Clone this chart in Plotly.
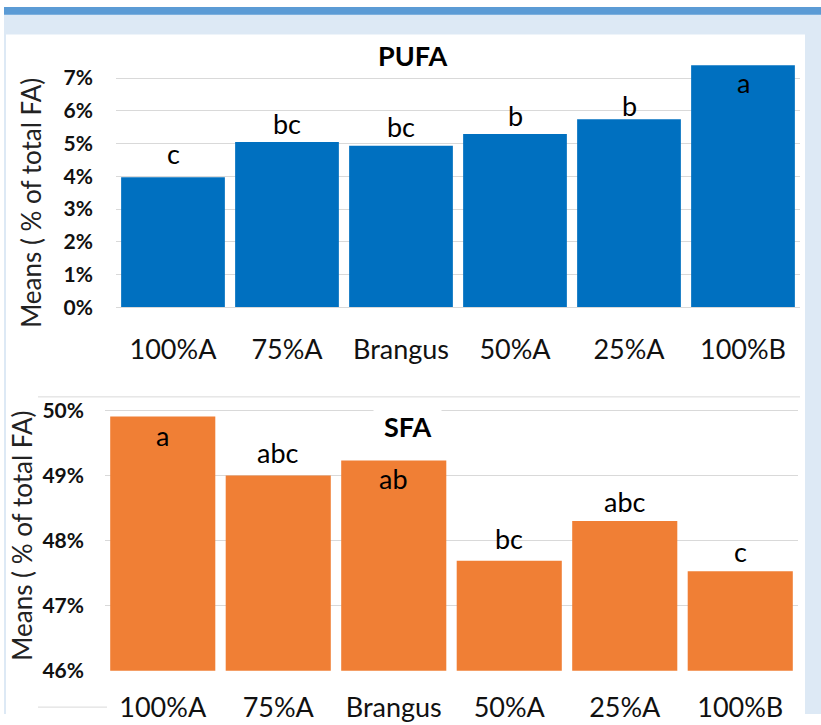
import plotly.graph_objects as go

W, H = 821, 725

categories = ["100%A", "75%A", "Brangus", "50%A", "25%A", "100%B"]
pufa_values = [3.97, 5.05, 4.93, 5.29, 5.74, 7.39]
pufa_letters = ["c", "bc", "bc", "b", "b", "a"]
sfa_values = [49.91, 49.00, 49.23, 47.69, 48.30, 47.53]
sfa_letters = ["a", "abc", "ab", "bc", "abc", "c"]
pufa_ticks = [0, 1, 2, 3, 4, 5, 6, 7]
pufa_ticklabels = ["0%", "1%", "2%", "3%", "4%", "5%", "6%", "7%"]
sfa_ticks = [46, 47, 48, 49, 50]
sfa_ticklabels = ["46%", "47%", "48%", "49%", "50%"]
y_title = "Means ( % of total FA)"

# style: per-label pixel offsets
pufa_shift = [5, 0, 1, 0, -5, -36]
sfa_shift = [-38, 5, -36, 4, 1, 1]

FONT = "Lato, 'Liberation Sans', sans-serif"

def px(x):
    return x / W

def py(y):
    return 1 - y / H

fig = go.Figure()
fig.add_trace(go.Bar(x=categories, y=pufa_values, marker=dict(color="#0070c0", line=dict(width=0)),
                     xaxis="x", yaxis="y", showlegend=False, hoverinfo="skip"))
fig.add_trace(go.Bar(x=categories, y=sfa_values, marker=dict(color="#f07f35", line=dict(width=0)),
                     xaxis="x2", yaxis="y2", showlegend=False, hoverinfo="skip"))

annotations = []
for c, v, t, s in zip(categories, pufa_values, pufa_letters, pufa_shift):
    annotations.append(dict(x=c, y=v, xref="x", yref="y", text=t, showarrow=False,
                            xanchor="center", yanchor="bottom", yshift=s,
                            font=dict(family=FONT, size=27, color="#000")))
for c, v, t, s in zip(categories, sfa_values, sfa_letters, sfa_shift):
    annotations.append(dict(x=c, y=v, xref="x2", yref="y2", text=t, showarrow=False,
                            xanchor="center", yanchor="bottom", yshift=s,
                            font=dict(family=FONT, size=27, color="#000")))
annotations += [
    dict(x=px(412), y=py(56), xref="paper", yref="paper", text="<b>PUFA</b>", showarrow=False,
         xanchor="center", yanchor="middle", font=dict(family=FONT, size=27, color="#000")),
    dict(x=px(407), y=py(433), xref="paper", yref="paper", text="<b>SFA</b>", showarrow=False,
         xanchor="center", yanchor="middle",
         bgcolor="#ffffff", borderpad=10, font=dict(family=FONT, size=27, color="#000")),
    dict(x=px(31), y=py(206), xref="paper", yref="paper", text=y_title, showarrow=False,
         xanchor="center", yanchor="middle",
         textangle=-90, font=dict(family=FONT, size=26, color="#222")),
    dict(x=px(22), y=py(544), xref="paper", yref="paper", text=y_title, showarrow=False,
         xanchor="center", yanchor="middle",
         textangle=-90, font=dict(family=FONT, size=26, color="#222")),
]

shapes = [
    dict(type="rect", xref="paper", yref="paper", x0=px(4), x1=1, y0=0, y1=py(7),
         fillcolor="#dde9f5", line=dict(width=0), layer="below"),
    dict(type="rect", xref="paper", yref="paper", x0=px(4), x1=1, y0=py(15), y1=py(7),
         fillcolor="#5b9bd5", line=dict(width=0), layer="below"),
    dict(type="rect", xref="paper", yref="paper", x0=px(6), x1=px(805), y0=0, y1=py(35),
         fillcolor="#ffffff", line=dict(width=0), layer="below"),
    dict(type="line", xref="paper", yref="paper", x0=px(38), x1=px(800), y0=py(403), y1=py(403),
         line=dict(color="#d9d9d9", width=1), layer="below"),
    dict(type="line", xref="paper", yref="paper", x0=px(38), x1=px(107), y0=py(718), y1=py(718),
         line=dict(color="#d9d9d9", width=1), layer="below"),
]

tickfont_x = dict(family=FONT, size=27, color="#111")
tickfont_y = dict(family=FONT, size=21, color="#111", weight="bold")

fig.update_layout(
    width=W, height=H,
    margin=dict(l=0, r=0, t=0, b=0),
    paper_bgcolor="#ffffff", plot_bgcolor="rgba(0,0,0,0)",
    bargap=0.09,
    xaxis=dict(domain=[px(116), px(800)], anchor="y", showgrid=False, showline=True,
               linecolor="#d9d9d9", linewidth=1, tickfont=tickfont_x, ticklabelstandoff=18,
               fixedrange=True),
    yaxis=dict(domain=[py(312), py(66)], anchor="x", range=[0, 7.4], tickvals=pufa_ticks,
               ticktext=pufa_ticklabels, showgrid=True, gridcolor="#d9d9d9", zeroline=False,
               tickfont=tickfont_y, ticklabelstandoff=22),
    xaxis2=dict(domain=[px(105), px(798)], anchor="y2", showgrid=False, showline=False,
                tickfont=tickfont_x, ticklabelstandoff=18),
    yaxis2=dict(domain=[py(681), py(403)], anchor="x2", range=[46, 50.21], tickvals=sfa_ticks,
                ticktext=sfa_ticklabels, showgrid=True, gridcolor="#d9d9d9", zeroline=False,
                tickfont=tickfont_y, ticklabelstandoff=20),
    annotations=annotations,
    shapes=shapes,
)

fig.write_html("out.html", config={"displayModeBar": False},
               post_script="document.body.style.margin='0';document.body.style.overflow='hidden';")
